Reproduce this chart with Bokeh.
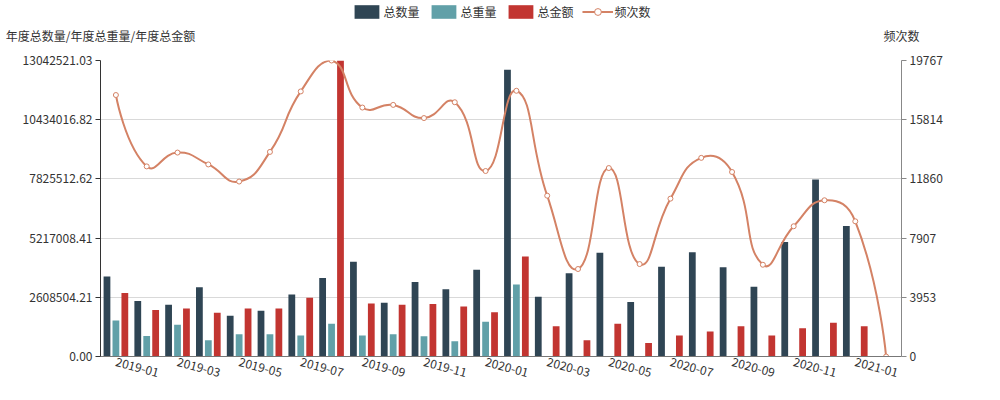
import math
import numpy as np
from bokeh.plotting import figure
from bokeh.layouts import column
from bokeh.models import (ColumnDataSource, Range1d, LinearAxis, FixedTicker,
                          NumeralTickFormatter, Legend, LegendItem)
from bokeh.transform import dodge
from bokeh.embed import file_html
from bokeh.resources import INLINE

NaN = float("nan")

# ---------------- data ----------------
months = ["2018-12", "2019-01", "2019-02", "2019-03", "2019-04", "2019-05",
          "2019-06", "2019-07", "2019-08", "2019-09", "2019-10", "2019-11",
          "2019-12", "2020-01", "2020-02", "2020-03", "2020-04", "2020-05",
          "2020-06", "2020-07", "2020-08", "2020-09", "2020-10", "2020-11",
          "2020-12", "2021-01"]

total_count = [3530000, 2440000, 2280000, 3050000, 1800000, 2020000,
               2730000, 3460000, 4180000, 2370000, 3280000, 2960000,
               3820000, 12640000, 2630000, 3670000, 4570000, 2400000,
               3960000, 4590000, 3930000, 3070000, 5050000, 7800000,
               5750000, NaN]

total_weight = [1587000, 900000, 1400000, 720000, 980000, 980000,
                920000, 1440000, 920000, 980000, 890000, 670000,
                1530000, 3170000, NaN, NaN, NaN, NaN,
                NaN, NaN, NaN, NaN, NaN, NaN,
                NaN, NaN]

total_amount = [2800000, 2050000, 2120000, 1930000, 2110000, 2110000,
                2590000, 13042521.03, 2340000, 2280000, 2310000, 2200000,
                1950000, 4410000, 1330000, 720000, 1440000, 590000,
                930000, 1100000, 1330000, 930000, 1240000, 1490000,
                1330000, NaN]

frequency = [17461, 12695, 13618, 12826, 11684, 13662,
             17702, 19767, 16626, 16802, 15923, 16978,
             12387, 17744, 10740, 5843, 12585, 6173,
             10542, 13266, 12321, 6128, 8697, 10433,
             9027, 0]

series_names = ["总数量", "总重量", "总金额", "频次数"]
left_axis_name = "年度总数量/年度总重量/年度总金额"
right_axis_name = "频次数"

# ---------------- style ----------------
COLORS = ["#2f4554", "#61a0a8", "#c23531", "#d48265"]
FONT = "Noto Sans CJK SC"
TEXT_COLOR = "#333333"
W = 984
HEAD_H = 46
MAIN_H = 384 - HEAD_H
FRAME_W = 801
BORDER_L, BORDER_T, BORDER_B = 100, 60 - HEAD_H, 28

n = len(months)
xs = list(range(n))
left_max = float(np.nanmax(np.array(total_count + total_weight + total_amount, dtype=float)))
right_max = float(max(frequency))

# ================= main chart =================
source = ColumnDataSource(dict(x=xs, count=total_count, weight=total_weight,
                               amount=total_amount, freq=frequency))

main = figure(width=W, height=MAIN_H, title=None,
              x_range=Range1d(-0.5, n - 0.5), y_range=Range1d(0, left_max),
              output_backend="svg", toolbar_location=None,
              min_border_left=BORDER_L, min_border_right=W - BORDER_L - FRAME_W,
              min_border_top=BORDER_T, min_border_bottom=BORDER_B)
main.extra_y_ranges = {"right": Range1d(0, right_max)}
main.outline_line_color = None
main.background_fill_color = "white"

bw = 0.22
main.vbar(x=dodge("x", -0.29), top="count", width=bw, source=source,
          fill_color=COLORS[0], line_color=None)
main.vbar(x=dodge("x", 0.0), top="weight", width=bw, source=source,
          fill_color=COLORS[1], line_color=None)
main.vbar(x=dodge("x", 0.29), top="amount", width=bw, source=source,
          fill_color=COLORS[2], line_color=None)

# smooth line (echarts-like bezier smoothing, computed in pixel-proportional space)
FRAME_H_EST = MAIN_H - BORDER_T - 30
sx = FRAME_W / n
sy = FRAME_H_EST / right_max
pts = [(i * sx, f * sy) for i, f in zip(xs, frequency)]
smooth = 0.5
minx = min(q[0] for q in pts); maxx = max(q[0] for q in pts)
miny = min(q[1] for q in pts); maxy = max(q[1] for q in pts)

def clamp(c):
    return (min(max(c[0], minx), maxx), min(max(c[1], miny), maxy))

cps = []
for i, pt in enumerate(pts):
    if i == 0 or i == len(pts) - 1:
        cps.append(pt)
        continue
    prv, nxt = pts[i - 1], pts[i + 1]
    vx, vy = (nxt[0] - prv[0]) * smooth, (nxt[1] - prv[1]) * smooth
    d0 = math.hypot(pt[0] - prv[0], pt[1] - prv[1])
    d1 = math.hypot(pt[0] - nxt[0], pt[1] - nxt[1])
    s = d0 + d1
    if s:
        d0 /= s; d1 /= s
    cps.append(clamp((pt[0] - vx * d0, pt[1] - vy * d0)))
    cps.append(clamp((pt[0] + vx * d1, pt[1] + vy * d1)))

bz = dict(x0=[], y0=[], x1=[], y1=[], cx0=[], cy0=[], cx1=[], cy1=[])
k = 0
for i in range(1, len(pts)):
    c0 = cps[k]; c1 = cps[k + 1]; k += 2
    bz["x0"].append(xs[i - 1]); bz["y0"].append(frequency[i - 1])
    bz["x1"].append(xs[i]); bz["y1"].append(frequency[i])
    bz["cx0"].append(c0[0] / sx); bz["cy0"].append(c0[1] / sy)
    bz["cx1"].append(c1[0] / sx); bz["cy1"].append(c1[1] / sy)
bsrc = ColumnDataSource(bz)
main.bezier(x0="x0", y0="y0", x1="x1", y1="y1", cx0="cx0", cy0="cy0",
            cx1="cx1", cy1="cy1", source=bsrc, y_range_name="right",
            line_color=COLORS[3], line_width=2)
main.scatter(x="x", y="freq", source=source, y_range_name="right",
             marker="circle", size=5, fill_color="white",
             line_color=COLORS[3], line_width=1)

# axes
left_ticks = [left_max * k / 5 for k in range(6)]
right_ticks = [right_max * k / 5 for k in range(6)]

main.yaxis.ticker = FixedTicker(ticks=left_ticks)
main.ygrid.ticker = FixedTicker(ticks=left_ticks)
main.yaxis.formatter = NumeralTickFormatter(format="0.00")
main.xgrid.visible = False
main.ygrid.grid_line_color = "#d9d9d9"

ra = LinearAxis(y_range_name="right", ticker=FixedTicker(ticks=right_ticks),
                formatter=NumeralTickFormatter(format="0"))
main.add_layout(ra, "right")

# x axis labels every other month, rotated and laid out like the reference
label_shift = -1.0
x_label_idx = xs[1::2]
xa = main.xaxis[0]
xa.ticker = FixedTicker(ticks=[i + label_shift for i in x_label_idx])
xa.major_label_overrides = {i + label_shift: months[i] for i in x_label_idx}
xa.major_label_orientation = math.radians(-15)

for ax in [main.yaxis[0], ra, xa]:
    ax.major_label_text_font = FONT
    ax.major_label_text_font_size = "12px"
    ax.major_label_text_color = TEXT_COLOR
    ax.minor_tick_line_color = None
    ax.major_tick_in = 0
    ax.major_tick_out = 5
    ax.major_label_standoff = 3
main.yaxis.axis_line_color = "#333333"
main.yaxis.major_tick_line_color = "#333333"
ra.axis_line_color = "#888888"
ra.major_tick_line_color = "#888888"
xa.axis_line_color = "#777777"
xa.major_tick_line_color = None
xa.major_label_standoff = 0

# ================= header: legend + axis names =================
head = figure(width=W, height=HEAD_H, title=None, x_axis_type=None, y_axis_type=None,
              x_range=Range1d(-0.5, n - 0.5), y_range=Range1d(0, left_max),
              output_backend="svg", toolbar_location=None, min_border=0)
head.extra_y_ranges = {"right": Range1d(0, right_max)}
head.outline_line_color = None
head.background_fill_color = "white"

# legend-only renderers (hidden; they carry the series styles for the legend)
h_count = head.vbar(x="x", top="count", width=bw, source=source, fill_color=COLORS[0],
                    line_color=None, visible=False)
h_weight = head.vbar(x="x", top="weight", width=bw, source=source, fill_color=COLORS[1],
                     line_color=None, visible=False)
h_amount = head.vbar(x="x", top="amount", width=bw, source=source, fill_color=COLORS[2],
                     line_color=None, visible=False)
h_line = head.line(x="x", y="freq", source=source, y_range_name="right",
                   line_color=COLORS[3], line_width=2, visible=False)
h_pts = head.scatter(x="x", y="freq", source=source, y_range_name="right",
                     marker="circle", size=5, fill_color="white",
                     line_color=COLORS[3], line_width=1, visible=False)

legend = Legend(items=[LegendItem(label=series_names[0], renderers=[h_count]),
                       LegendItem(label=series_names[1], renderers=[h_weight]),
                       LegendItem(label=series_names[2], renderers=[h_amount]),
                       LegendItem(label=series_names[3], renderers=[h_line, h_pts])],
                location="top_center", orientation="horizontal",
                glyph_width=31, glyph_height=17, label_standoff=2, spacing=8,
                padding=0, margin=3, label_height=14, label_width=10,
                border_line_color=None, background_fill_alpha=0,
                label_text_font=FONT, label_text_font_size="12px",
                label_text_color=TEXT_COLOR)
head.add_layout(legend)

# axis names: labels at the two ends of the value axes (frame edges)
edge = 1e-6
name_ticks = [-0.5 + edge, n - 0.5 - edge]
names = LinearAxis(ticker=FixedTicker(ticks=name_ticks),
                   major_label_overrides={name_ticks[0]: left_axis_name,
                                          name_ticks[1]: right_axis_name},
                   axis_line_color=None, major_tick_line_color=None,
                   minor_tick_line_color=None, major_tick_in=0, major_tick_out=0,
                   major_label_standoff=0, major_label_text_font=FONT,
                   major_label_text_font_size="12px", major_label_text_color=TEXT_COLOR)
head.add_layout(names, "below")

p = column(head, main, spacing=0)

open("out.html", "w").write(file_html(p, INLINE))
